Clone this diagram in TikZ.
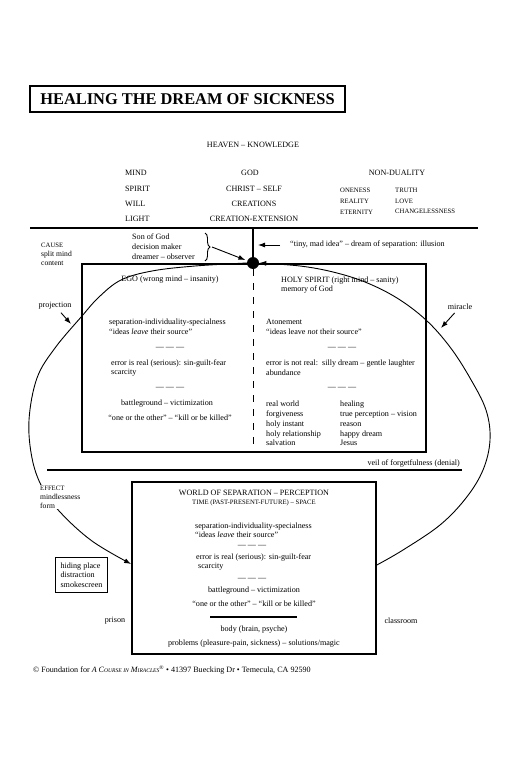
\documentclass[tikz,border=0pt]{standalone}
\usepackage{fontspec}
\setmainfont{Liberation Serif}
\usetikzlibrary{positioning,arrows.meta,decorations.pathreplacing}

\newcommand{\lilcaps}[1]{{\fontsize{5.6}{6}\selectfont #1}}
\newcommand{\threedash}{---\ ---\ ---}

\tikzset{
  txt/.style={font=\fontsize{8.1}{9.8}\selectfont, inner sep=0pt, align=left},
  caps/.style={font=\fontsize{6.7}{10.8}\selectfont, inner sep=0pt, align=left},
  frame/.style={draw, line width=1.7pt},
  arrow/.style={-{Latex[length=7pt,width=5pt]}, line width=0.9pt},
  bigarc/.style={line width=1.6pt},
}

\begin{document}
\begin{tikzpicture}[x=1pt, y=-1pt]
    \useasboundingbox (0,0) rectangle (510,773);

    % title
    \node[frame, minimum width=315pt, minimum height=26pt, inner sep=0pt,
          font=\fontsize{16.4}{18}\selectfont\bfseries] (title) at (187.5,99) {HEALING THE DREAM OF SICKNESS};

    % heaven
    \node[txt] (heaven) at (253,145) {HEAVEN -- KNOWLEDGE};
    \node[txt, anchor=west] (mind) at (125,173) {MIND};
    \node[txt, anchor=west] (spirit) at (125,189) {SPIRIT};
    \node[txt, anchor=west] (will) at (125,204) {WILL};
    \node[txt, anchor=west] (light) at (125,219) {LIGHT};
    \node[txt] (god) at (250,173) {GOD};
    \node[txt] (christ) at (254,189) {CHRIST -- SELF};
    \node[txt] (creations) at (254,204) {CREATIONS};
    \node[txt] (extension) at (254,219) {CREATION-EXTENSION};
    \node[txt] (nondual) at (397,173) {NON-DUALITY};
    \node[caps, anchor=west] (oneness) at (340,201) {ONENESS\\REALITY\\ETERNITY};
    \node[caps, anchor=west] (truth) at (395,201) {TRUTH\\LOVE\\CHANGELESSNESS};

    \coordinate (heavenL) at (30,228);
    \coordinate (heavenR) at (478,228);
    \draw[line width=2.5pt] (heavenL) -- (heavenR);

    % the split
    \node[circle, fill, inner sep=0pt, minimum size=12pt] (dot) at (253,263) {};
    \draw[line width=1.5pt] (dot |- heavenL) -- (dot);

    \node[font=\fontsize{7.6}{9}\selectfont, inner sep=0pt, align=left, anchor=west] (cause) at (41,254)
        {{\fontsize{6.7}{9}\selectfont CAUSE}\\split mind\\content};
    \node[txt, anchor=west, font=\fontsize{8.1}{10}\selectfont] (son) at (132,247)
        {Son of God\\decision maker\\dreamer -- observer};
    \draw[decorate, decoration={brace, amplitude=5pt}, line width=0.9pt] (205,233) -- (205,261);
    \coordinate (bracetip) at (212,247);
    \draw[arrow] (bracetip) -- (dot) [shorten >=2pt];

    \node[txt, anchor=west] (tiny) at (290,245) {“tiny, mad idea” -- dream of separation: illusion};
    \coordinate (tinyend) at (258,245);
    \draw[arrow] (tiny) -- (tinyend) [shorten <=10pt];

    % mind box
    \node[frame, minimum width=344pt, minimum height=188pt] (mindbox) at (254,358) {};
    \draw[line width=0.9pt, dash pattern=on 7pt off 7pt] (dot) -- (dot |- mindbox.south);

    \node[txt] (ego) at (170,280) {EGO (wrong mind -- insanity)};
    \node[txt, anchor=west] (egoa) at (109,327) {separation-individuality-specialness\\“ideas \textit{leave} their source”};
    \node[txt] (egosep1) at (170,348) {\threedash};
    \node[txt, anchor=west] (egob) at (111,368) {error is real (serious): sin-guilt-fear\\scarcity};
    \node[txt] (egosep2) at (170,388) {\threedash};
    \node[txt] (battle) at (167,404) {battleground -- victimization};
    \node[txt] (killed) at (170,418) {“one or the other” -- “kill or be killed”};

    \node[txt, anchor=west] (holy) at (281,285) {HOLY SPIRIT (right mind -- sanity)\\memory of God};
    \node[txt, anchor=west] (atone) at (266,326.5) {Atonement\\“ideas leave \textit{not} their source”};
    \node[txt] (hssep1) at (342,348) {\threedash};
    \node[txt, anchor=west] (notreal) at (266,368) {error is not real:\ \ silly dream -- gentle laughter\\abundance};
    \node[txt] (hssep2) at (342,388) {\threedash};
    \node[txt, anchor=west, font=\fontsize{8.1}{9.75}\selectfont] (realworld) at (266,423.5)
        {real world\\forgiveness\\holy instant\\holy relationship\\salvation};
    \node[txt, anchor=west, font=\fontsize{8.1}{9.75}\selectfont] (healing) at (340,423.5)
        {healing\\true perception -- vision\\reason\\happy dream\\Jesus};

    % veil
    \coordinate (veilL) at (47,470);
    \coordinate (veilR) at (462,470);
    \draw[line width=1.8pt] (veilL) -- (veilR);
    \node[txt, anchor=east] (veil) at (460,464) {veil of forgetfulness (denial)};

    % world box
    \node[frame, minimum width=244pt, minimum height=172pt] (worldbox) at (254,568) {};
    \node[txt] (world) at (254,493) {WORLD OF SEPARATION -- PERCEPTION};
    \node[caps] (time) at (254,503) {TIME (PAST-PRESENT-FUTURE) -- SPACE};
    \node[txt, anchor=west, font=\fontsize{8.1}{9.3}\selectfont] (wa) at (195,530.5) {separation-individuality-specialness\\“ideas \textit{leave}\ their source”};
    \node[txt] (wsep1) at (252,546) {\threedash};
    \node[txt, anchor=west] (wb) at (196,562) {error is real (serious): sin-guilt-fear\\\ scarcity};
    \node[txt] (wsep2) at (252,579) {\threedash};
    \node[txt] (wbattle) at (254,591) {battleground -- victimization};
    \node[txt] (wkilled) at (254,604) {“one or the other” -- “kill or be killed”};
    \draw[line width=1.6pt] (210,617) -- (297,617);
    \node[txt] (body) at (254,630) {body (brain, psyche)};
    \node[txt] (problems) at (254,644) {problems (pleasure-pain, sickness) -- solutions/magic};

    \node[txt] (prison) at (115,621) {prison};
    \node[txt] (classroom) at (401,621) {classroom};
    \node[draw, line width=1.2pt, inner sep=5pt, align=left, font=\fontsize{8.1}{9.5}\selectfont] (hiding) at (81.5,575)
        {hiding place\\distraction\\smokescreen};

    % projection / miracle
    \draw[bigarc, arrow] plot[smooth, tension=0.6] coordinates {(dot.west) (195,266) (152,271) (121,280) (99,297)
        (82,316) (55,348) (37,378) (29,420) (32,458) (42,487) (60,512) (92,541) (worldbox.west |- 0,564)};
    \draw[bigarc, arrow] plot[smooth, tension=0.6] coordinates {(worldbox.east |- 0,565) (403,550) (440,525) (466,498)
        (483,470) (490,440) (486,410) (470,378) (450,347) (426,320) (397,298) (365,282) (333,272) (300,266) (dot.east)};

    \node[font=\fontsize{7.6}{9}\selectfont, inner sep=1pt, align=left, anchor=west, fill=white] (effect) at (39,497)
        {{\fontsize{6.7}{9}\selectfont EFFECT}\\mindlessness\\form};

    \node[txt] (proj) at (55,306) {projection};
    \coordinate (projtip) at (71,324);
    \draw[arrow] (proj) -- (projtip) [shorten <=4pt];
    \node[txt] (mir) at (460,307) {miracle};
    \coordinate (mirtip) at (441,328);
    \draw[arrow] (mir) -- (mirtip) [shorten <=4pt];

    % footer
    \node[txt, anchor=west] (footer) at (33,670)
        {© Foundation for \textit{A C\lilcaps{OURSE IN} M\lilcaps{IRACLES}}\textsuperscript{\lilcaps{®}} • 41397 Buecking Dr • Temecula, CA 92590};
\end{tikzpicture}
\end{document}
